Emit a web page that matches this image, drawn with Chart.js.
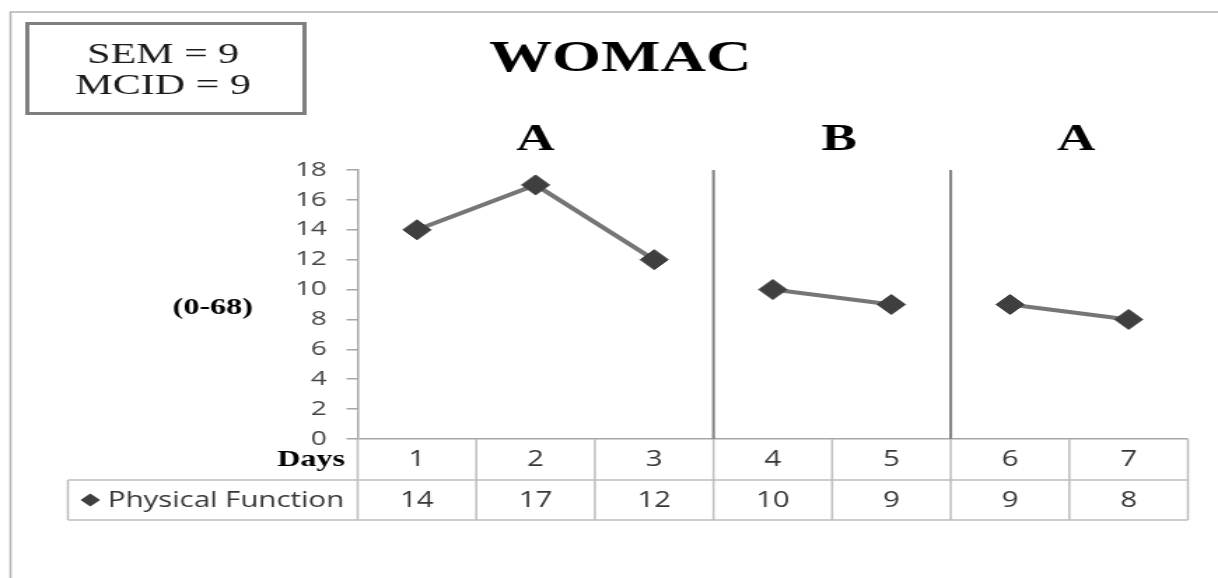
<!DOCTYPE html>
<html>
<head>
<meta charset="utf-8">
<script src="https://cdn.jsdelivr.net/npm/chart.js@4"></script>
<style>
  html, body { margin: 0; padding: 0; background: #fff; }
  #wrap { width: 1218px; height: 578px; overflow: hidden; }
  /* the reference is stretched sideways, so the canvas is drawn narrow and widened by CSS */
  #chart { display: block; width: 1218px; height: 578px; }
</style>
</head>
<body>
<div id="wrap"><canvas id="chart" width="870" height="578" style="width:1218px;height:578px"></canvas></div>
<script>
// data
const days = ["1", "2", "3", "4", "5", "6", "7"]
const physicalFunction = [14, 17, 12, 10, 9, 9, 8]
const phaseLabels = ["A", "B", "A"]
const phaseStarts = [0, 3, 5] // index of the first day of each phase
const yTicks = [0, 2, 4, 6, 8, 10, 12, 14, 16, 18]
const titleText = "WOMAC"
const noteLines = ["SEM = 9", "MCID = 9"]
const yRangeLabel = "(0-68)"
const rowLabel = "Days"
const seriesName = "Physical Function"

const lineColor = "#767676"
const markerColor = "#3f3f3f"
const tableLine = "#bdbdbd"
const textColor = "#363636"
const serif = "'Liberation Serif', 'Times New Roman', serif"
const sans = "'Open Sans', sans-serif"

// everything Chart.js does not draw by itself: title, note box, phases, data table
const womacExtras = {
  id: "womacExtras",
  beforeDatasetsDraw(chart) {
    const { ctx, chartArea, scales: { x } } = chart
    ctx.save()
    ctx.strokeStyle = "#808080"
    ctx.lineWidth = 2
    phaseStarts.slice(1).forEach(i => {
      const px = (x.getPixelForValue(i - 1) + x.getPixelForValue(i)) / 2
      ctx.beginPath()
      ctx.moveTo(px, chartArea.top)
      ctx.lineTo(px, chartArea.bottom)
      ctx.stroke()
    })
    ctx.restore()
  },
  afterDraw(chart) {
    const { ctx, chartArea, scales: { x } } = chart
    const left = chartArea.left
    const right = chartArea.right
    const edges = [left]
    for (let i = 1; i < days.length; i++) {
      edges.push((x.getPixelForValue(i - 1) + x.getPixelForValue(i)) / 2)
    }
    edges.push(right)

    ctx.save()

    // outer frame
    ctx.strokeStyle = "#b4b4b4"
    ctx.lineWidth = 1.5
    ctx.beginPath()
    ctx.moveTo(chart.width, 12)
    ctx.lineTo(7.5, 12)
    ctx.lineTo(7.5, chart.height)
    ctx.stroke()

    // note box
    ctx.strokeStyle = "#7f7f7f"
    ctx.lineWidth = 3
    ctx.strokeRect(19.5, 23.5, 198, 90)
    ctx.fillStyle = "#1a1a1a"
    ctx.textAlign = "center"
    ctx.textBaseline = "middle"
    ctx.font = "30px " + serif
    ctx.fillText(noteLines[0], 116.5, 55)
    ctx.fillText(noteLines[1], 116.5, 86)

    // title
    ctx.fillStyle = "#000"
    ctx.font = "bold 45px " + serif
    ctx.fillText(titleText, 443, 59)

    // phase labels
    ctx.font = "bold 38px " + serif
    phaseLabels.forEach((label, p) => {
      const a = edges[phaseStarts[p]]
      const b = edges[p + 1 < phaseStarts.length ? phaseStarts[p + 1] : days.length]
      ctx.fillText(label, (a + b) / 2 + (p > 0 ? 5 : 0), 140)
    })

    // range label next to the y axis
    ctx.font = "bold 23px " + serif
    ctx.fillText(yRangeLabel, 152, 308)

    // data table
    const r0 = chartArea.bottom
    const r1 = r0 + 41
    const r2 = r1 + 40
    const tableLeft = 48.5
    ctx.strokeStyle = tableLine
    ctx.lineWidth = 1.5
    ctx.beginPath()
    ctx.moveTo(tableLeft, r1); ctx.lineTo(right, r1)
    ctx.moveTo(tableLeft, r2); ctx.lineTo(right, r2)
    ctx.moveTo(tableLeft, r1); ctx.lineTo(tableLeft, r2)
    edges.forEach(e => { ctx.moveTo(e, r0); ctx.lineTo(e, r2) })
    ctx.stroke()

    ctx.fillStyle = "#000"
    ctx.textAlign = "right"
    ctx.font = "bold 23px " + serif
    ctx.fillText(rowLabel, 246.5, (r0 + r1) / 2 + 1)

    ctx.fillStyle = textColor
    ctx.textAlign = "center"
    ctx.font = "21px " + sans
    days.forEach((d, i) => {
      const cx = x.getPixelForValue(i)
      ctx.fillText(d, cx, (r0 + r1) / 2 + 1)
      ctx.fillText(String(physicalFunction[i]), cx, (r1 + r2) / 2 + 1)
    })

    // legend key in the series row
    const ky = (r1 + r2) / 2
    ctx.fillStyle = markerColor
    ctx.beginPath()
    ctx.moveTo(64.5 - 7, ky)
    ctx.lineTo(64.5, ky - 6.5)
    ctx.lineTo(64.5 + 7, ky)
    ctx.lineTo(64.5, ky + 6.5)
    ctx.closePath()
    ctx.fill()
    ctx.fillStyle = textColor
    ctx.textAlign = "left"
    ctx.fillText(seriesName, 77, ky + 1)

    ctx.restore()
  }
}

new Chart(document.getElementById("chart"), {
  type: "line",
  data: {
    labels: days,
    datasets: [{
      label: seriesName,
      data: physicalFunction,
      borderColor: lineColor,
      borderWidth: 4,
      pointStyle: "rectRot",
      pointRadius: 10,
      pointBackgroundColor: markerColor,
      pointBorderColor: markerColor,
      pointBorderWidth: 1,
      // no line across phase changes
      segment: {
        borderColor: ctx => phaseStarts.includes(ctx.p1DataIndex) ? "rgba(0,0,0,0)" : lineColor
      }
    }]
  },
  options: {
    responsive: false,
    devicePixelRatio: 1,
    animation: false,
    layout: {
      padding: { left: 0, right: 21.5, top: 170, bottom: 139 }
    },
    plugins: {
      legend: { display: false },
      title: { display: false },
      tooltip: { enabled: false }
    },
    scales: {
      x: {
        type: "category",
        display: false,
        offset: true
      },
      y: {
        min: yTicks[0],
        max: yTicks[yTicks.length - 1],
        afterFit: scale => { scale.width = 255.5 },
        afterBuildTicks: scale => { scale.ticks = yTicks.map(v => ({ value: v })) },
        ticks: {
          padding: 14,
          color: "#444",
          font: { family: "Open Sans", size: 20 }
        },
        grid: {
          drawTicks: true,
          tickLength: 8,
          tickColor: "#a6a6a6",
          lineWidth: 1.5,
          color: ctx => ctx.tick && ctx.tick.value === 0 ? "#a6a6a6" : "rgba(0,0,0,0)"
        },
        border: { display: true, color: "#a6a6a6", width: 1.5 }
      }
    }
  },
  plugins: [womacExtras]
})
</script>
</body>
</html>
